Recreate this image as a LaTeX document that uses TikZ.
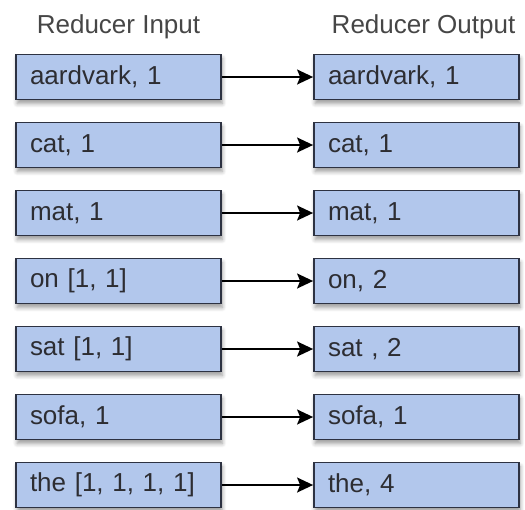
\documentclass[tikz,border=0pt]{standalone}
\usepackage{fontspec}
\setmainfont{Liberation Sans}
\usetikzlibrary{arrows.meta, positioning, shadows.blur}

\definecolor{boxfill}{RGB}{178,199,236}
\definecolor{boxedge}{RGB}{45,50,66}
\definecolor{boxtext}{RGB}{45,45,50}
\definecolor{titletext}{RGB}{70,70,70}

\begin{document}
\begin{tikzpicture}[
            x = 0.5pt, y = -0.5pt, % one unit is one pixel of the reference
            > = {Stealth[length=8pt, width=7.5pt, inset=1.5pt]}, % arrow head style
            font = \fontsize{13}{15}\selectfont,
            node distance = 10.6pt and 45.6pt, % gap between boxes
            line width = 0.8pt % line style
        ]

        \tikzstyle{pair}=[
            draw = boxedge,
            line width = 0.9pt,
            fill = boxfill,
            text = boxtext,
            minimum width = 102.5pt,
            minimum height = 22.5pt,
            text width = 88.5pt,
            inner xsep = 7pt,
            align = left,
            blur shadow = {shadow xshift=0.6pt, shadow yshift=-2pt, shadow blur steps=6, shadow opacity=40}
        ]
        \tikzstyle{title}=[
            text = titletext,
            inner sep = 0pt
        ]

        \useasboundingbox (0,0) rectangle (525,509);

        % reducer input
        \node[pair] (in1) at (118.5,77) {aardvark, 1};
        \node[pair] (in2) [below=of in1] {cat, 1};
        \node[pair] (in3) [below=of in2] {mat, 1};
        \node[pair] (in4) [below=of in3] {on [1, 1]};
        \node[pair] (in5) [below=of in4] {sat [1, 1]};
        \node[pair] (in6) [below=of in5] {sofa, 1};
        \node[pair] (in7) [below=of in6] {the [1, 1, 1, 1]};

        % reducer output
        \node[pair] (out1) [right=of in1] {aardvark, 1};
        \node[pair] (out2) [right=of in2] {cat, 1};
        \node[pair] (out3) [right=of in3] {mat, 1};
        \node[pair] (out4) [right=of in4] {on, 2};
        \node[pair] (out5) [right=of in5] {sat , 2};
        \node[pair] (out6) [right=of in6] {sofa, 1};
        \node[pair] (out7) [right=of in7] {the, 4};

        \node[title] (intitle) [above=7pt of in1] {Reducer Input};
        \node[title, xshift=3.5pt] (outtitle) [above=7pt of out1] {Reducer Output};

        \path[->] (in1) edge (out1);
        \path[->] (in2) edge (out2);
        \path[->] (in3) edge (out3);
        \path[->] (in4) edge (out4);
        \path[->] (in5) edge (out5);
        \path[->] (in6) edge (out6);
        \path[->] (in7) edge (out7);

    \end{tikzpicture}
\end{document}
